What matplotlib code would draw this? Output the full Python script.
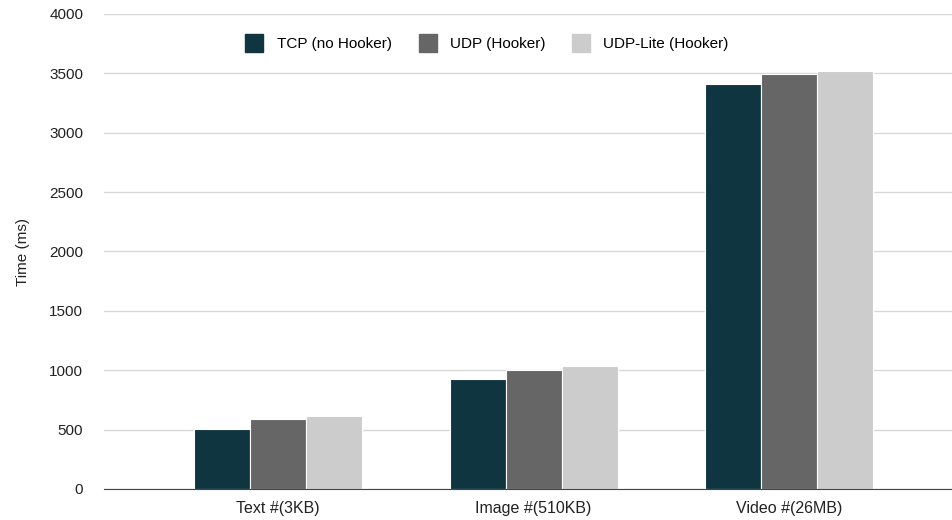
import numpy as np
import matplotlib.pyplot as plt
from matplotlib.lines import Line2D

plt.rcParams['font.family'] = ['Liberation Sans', 'DejaVu Sans']

categories = ['Text #(3KB)', 'Image #(510KB)', 'Video #(26MB)']
series_names = ['TCP (no Hooker)', 'UDP (Hooker)', 'UDP-Lite (Hooker)']
tcp = [505, 924, 3412]
udp = [587, 1005, 3495]
udp_lite = [615, 1033, 3520]
colors = ['#0f3540', '#666666', '#cccccc']

fig = plt.figure(figsize=(9.53, 5.2), dpi=100)
ax = fig.add_axes([104 / 953, 31 / 520, 849 / 953, 475 / 520])

x = np.arange(len(categories))
w = 0.219
for i, (vals, c) in enumerate(zip([tcp, udp, udp_lite], colors)):
    ax.bar(x + (i - 1) * w, vals, width=w, color=c, edgecolor='white', linewidth=0.8, zorder=3)

ax.set_xlim(-0.68, 2.64)
ax.set_ylim(0, 4000)
ax.set_yticks(np.arange(0, 4001, 500))
ax.set_xticks(x)
ax.set_xticklabels(categories, fontsize=11.5)
ax.grid(axis='y', color='#d9d9d9', linewidth=1, zorder=0)
ax.tick_params(axis='y', length=0, labelsize=11, colors='#222222', pad=15)
ax.tick_params(axis='x', length=0, colors='#222222', pad=9)
for s in ['top', 'right', 'left']:
    ax.spines[s].set_visible(False)
ax.spines['bottom'].set_color('#444444')
ax.spines['bottom'].set_zorder(4)
ax.set_ylabel('Time (ms)', fontsize=11, color='#222222', labelpad=14)

handles = [Line2D([], [], marker='s', linestyle='none', markersize=13, color=c) for c in colors]
fig.legend(handles, series_names, loc='center', bbox_to_anchor=(487 / 953, 1 - 44 / 520),
           ncol=3, frameon=False, fontsize=11, handlelength=1.2,
           handletextpad=0.85, columnspacing=1.76)

fig.savefig('out.png', dpi=100)
